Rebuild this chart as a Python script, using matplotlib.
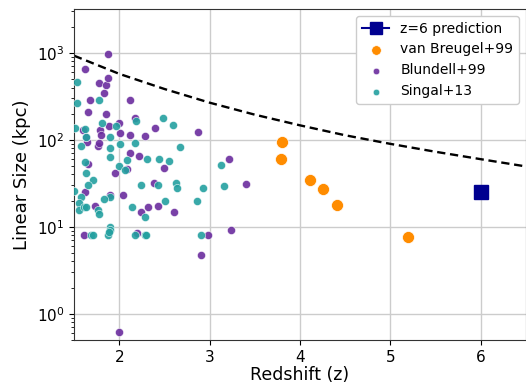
import numpy as np
import matplotlib
matplotlib.use('Agg')
import matplotlib.pyplot as plt

# Blundell+99 (z, size in kpc)
blundell_z = [1.88, 1.62, 1.78, 1.85, 1.88, 1.83, 1.68, 2.12, 1.65, 1.85,
              1.60, 1.785, 1.89, 2.00, 2.18, 2.40, 2.87, 2.29, 2.12, 2.01,
              1.80, 1.64, 1.77, 1.78, 2.12, 2.22, 2.50, 1.65, 2.09, 1.95,
              2.39, 1.62, 1.90, 2.04, 1.73, 2.245, 2.32, 2.43, 2.61, 1.61,
              2.20, 2.98, 3.22, 3.40, 3.24, 2.91, 2.00, 1.63]
blundell_size = [970, 650, 450, 425, 520, 345, 290, 285, 210, 198,
                 129, 131, 143, 156, 180, 136, 124, 112, 115, 119,
                 115, 94, 84, 92, 71, 66, 47, 53, 46, 42,
                 32, 25, 23, 23.5, 17.6, 15, 17, 17.5, 14.8, 8,
                 8.5, 8, 60, 31, 9.1, 4.8, 0.61, 108]

# Singal+13
singal_z = [1.53, 1.78, 1.53, 1.81, 1.51, 1.62, 1.96, 2.19, 2.49, 2.60,
            1.90, 1.63, 1.58, 1.90, 2.01, 2.17, 2.67, 1.90, 2.31, 2.44,
            2.55, 2.09, 1.62, 2.00, 2.06, 1.63, 1.71, 1.66, 2.245, 2.43,
            2.63, 2.64, 2.93, 1.50, 1.90, 1.83, 1.58, 1.56, 1.56, 1.61,
            1.63, 1.77, 1.78, 2.14, 2.51, 2.86, 2.28, 1.69, 1.71, 1.88,
            1.90, 1.90, 1.89, 2.17, 2.28, 2.30, 2.90, 3.13, 3.16]
singal_size = [460, 285, 265, 156, 137, 134, 143, 165, 180, 148,
               108, 109, 84, 81, 89, 93, 83, 64, 61, 60,
               57, 58, 56, 50, 45, 42, 35, 30, 30, 30,
               32, 28, 28, 26, 22, 21, 22, 19, 15.8, 17,
               17, 15.8, 14, 17, 20, 20, 12.9, 8, 8, 8,
               10, 9.2, 8.8, 8, 8, 8, 8, 52, 29.6]

# van Breugel+99
vb_z = [3.80, 3.79, 4.11, 4.25, 4.41, 5.20]
vb_size = [94, 61, 35, 27, 18, 7.6]

# z=6 prediction
pred_z = [6.0]
pred_size = [25]

# dashed limit curve
curve_z = [1.5, 2.0, 2.5, 3.0, 3.5, 4.0, 4.5, 5.0, 5.5, 6.0, 6.5]
curve_size = [930, 575, 385, 268, 195, 147, 113, 90, 73, 60, 49.5]

fig = plt.figure(figsize=(5.26, 3.86), dpi=100)
ax = fig.add_axes([74/526, 46/386, 452/526, 331/386])

ax.plot(curve_z, curve_size, '--', color='black', lw=1.7, dashes=(3.5, 2),
        zorder=2)
ax.plot(pred_z, pred_size, 's-', color='#000090', ms=10, lw=1.5,
        label='z=6 prediction', zorder=4)
ax.scatter(vb_z, vb_size, s=75, color='#ff8c00', edgecolor='white',
           linewidth=0.5, label='van Breugel+99', zorder=3)
ax.scatter(blundell_z, blundell_size, s=34, color='#6a2c9e', edgecolor='white',
           linewidth=0.4, alpha=0.9, label='Blundell+99', zorder=3)
ax.scatter(singal_z, singal_size, s=34, color='#23a0a0', edgecolor='white',
           linewidth=0.4, alpha=0.9, label='Singal+13', zorder=3)

ax.set_yscale('log')
ax.set_xlim(1.5, 6.5)
ax.set_ylim(0.5, 3200)
ax.set_xticks([2, 3, 4, 5, 6])
ax.grid(True, which='major', color='#cccccc', lw=1)
ax.set_axisbelow(True)
ax.tick_params(labelsize=11)
for s in ax.spines.values():
    s.set_color('#333333')

ax.set_xlabel('Redshift (z)', fontsize=12.5, labelpad=1)
ax.set_ylabel('Linear Size (kpc)', fontsize=13)
ax.legend(loc='upper right', fontsize=10, framealpha=1, markerscale=0.8)

fig.savefig('out.png', dpi=100)
